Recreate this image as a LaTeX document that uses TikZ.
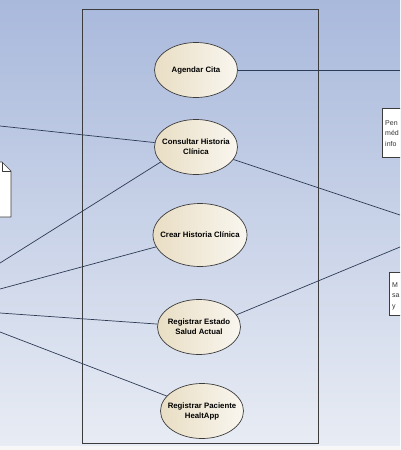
\documentclass[tikz,border=0pt]{standalone}
\usepackage{fontspec}
\setmainfont{Liberation Sans}
\usetikzlibrary{shapes.geometric}
\definecolor{bgtop}{HTML}{A9B9DC}
\definecolor{bgbot}{HTML}{E8ECF4}
\definecolor{linec}{HTML}{2E3B55}
\definecolor{ucleft}{HTML}{E9DEC4}
\definecolor{ucright}{HTML}{F9F6EF}
\definecolor{ucborder}{HTML}{3C3C3C}
\definecolor{notetext}{HTML}{333333}
\tikzset{
  usecase/.style={ellipse, draw=ucborder, line width=0.7pt, left color=ucleft, right color=ucright,
    minimum width=83pt, minimum height=55pt, inner xsep=-10pt, inner ysep=-4pt, align=center,
    font=\fontsize{7.8}{10}\selectfont\bfseries},
  assoc/.style={draw=linec, line width=0.7pt},
  notebox/.style={draw=ucborder, fill=white, line width=0.6pt},
  notetxt/.style={anchor=north west, inner sep=0pt, align=left, text=notetext,
    font=\fontsize{7}{10.5}\selectfont},
}
\begin{document}
\begin{tikzpicture}[x=1pt,y=-1pt]
\useasboundingbox (0,0) rectangle (400,450);
\clip (0,0) rectangle (400,450);
% background
\fill[top color=bgtop, bottom color=bgbot] (0,0) rectangle (400,446);
\fill[white!94!gray] (0,446) rectangle (400,450);
% system boundary
\draw[draw=ucborder, line width=0.8pt] (82,9) rectangle (318,443);
% notes
\draw[notebox] (382,108) rectangle (410,157);
\node[notetxt] (n1) at (385,120) {Pen\\méd\\info};
\draw[notebox] (389,272) rectangle (410,315);
\node[notetxt] (n2) at (392,282) {M\\sa\\y};
% document on the left
\draw[notebox, line join=round] (-5,162) -- (2,162) -- (11,171) -- (11,217) -- (-5,217) -- cycle;
\draw[draw=ucborder, line width=0.6pt, line join=round] (2,162) -- (2,171) -- (11,171);
% use cases
\node[usecase] (agendar) at (196,70) {Agendar Cita};
\node[usecase] (consultar) at (196,147) {Consultar Historia\\Clínica};
\node[usecase, minimum width=94pt, minimum height=63pt] (crear) at (200,235) {Crear Historia Clínica};
\node[usecase] (estado) at (199,327) {Registrar Estado\\Salud Actual};
\node[usecase] (paciente) at (202,411) {Registrar Paciente\\HealtApp};
% free ends
\coordinate (r1) at (400,70);
\coordinate (r2) at (400,215);
\coordinate (r3) at (400,247);
\coordinate (l1) at (0,126);
\coordinate (l2) at (0,263);
\coordinate (l3) at (0,289);
\coordinate (l4) at (0,313);
\coordinate (l5) at (0,332);
% associations
\draw[assoc] (agendar) -- (r1);
\draw[assoc] (consultar) -- (l1);
\draw[assoc] (consultar.203) -- (l2);
\draw[assoc] (crear) -- (l3);
\draw[assoc] (estado) -- (l4);
\draw[assoc] (paciente.157) -- (l5);
\draw[assoc] (consultar) -- (r2);
\draw[assoc] (estado.18) -- (r3);
\end{tikzpicture}
\end{document}
